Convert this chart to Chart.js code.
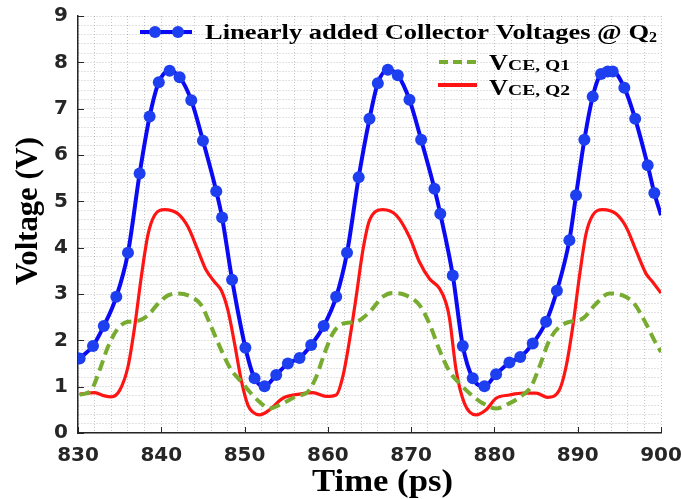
<!DOCTYPE html>
<html>
<head>
<meta charset="utf-8">
<title>Collector Voltages</title>
<script src="https://cdn.jsdelivr.net/npm/chart.js@4.4.0/dist/chart.umd.min.js"></script>
<style>
    html, body { margin: 0; padding: 0; background: #ffffff; }
    #wrap { width: 681px; height: 499px; }
</style>
</head>
<body>
<div id="wrap"><canvas id="chart" width="681" height="499"></canvas></div>
<script>
// Data
const blueTime = [830.2, 831.8, 833.1, 834.6, 836.0, 837.4, 838.6, 839.7, 841.0, 842.2, 843.6, 845.0, 846.6, 847.3, 848.5, 850.1, 851.2, 852.4, 853.8, 855.2, 856.6, 858.0, 859.5, 861.0, 862.3, 863.7, 865.0, 866.0, 867.2, 868.4, 869.8, 871.2, 872.8, 873.5, 875.0, 876.2, 877.4, 878.8, 880.2, 881.8, 883.1, 884.6, 886.2, 887.5, 889.0, 889.8, 890.8, 891.8, 892.8, 893.6, 894.2, 895.6, 896.9, 898.4, 899.2, 900];
const blueVolt = [1.61, 1.88, 2.31, 2.94, 3.89, 5.60, 6.83, 7.57, 7.82, 7.68, 7.18, 6.31, 5.22, 4.65, 3.31, 1.84, 1.18, 1.01, 1.25, 1.50, 1.62, 1.90, 2.31, 2.94, 3.89, 5.52, 6.78, 7.55, 7.84, 7.72, 7.19, 6.33, 5.27, 4.73, 3.40, 1.88, 1.18, 1.01, 1.27, 1.52, 1.64, 1.93, 2.40, 3.07, 4.16, 5.13, 6.33, 7.26, 7.75, 7.80, 7.80, 7.45, 6.78, 5.78, 5.18, 4.70];

const q1Time = [830.2, 831.6, 832.6, 833.6, 834.8, 836.0, 837.2, 838.4, 839.6, 840.8, 842.0, 843.6, 844.8, 846.0, 847.2, 848.4, 849.6, 850.6, 851.8, 853.0, 854.6, 856.2, 857.6, 858.6, 859.6, 860.6, 861.8, 863.4, 865.0, 866.6, 867.8, 869.4, 871.0, 872.2, 873.4, 874.6, 875.8, 877.0, 878.6, 880.2, 881.8, 883.4, 884.4, 885.4, 886.6, 887.8, 889.0, 890.6, 892.2, 893.8, 895.4, 896.8, 898.2, 899.2, 900];
const q1Volt = [0.82, 0.93, 1.36, 1.86, 2.26, 2.40, 2.42, 2.54, 2.79, 2.97, 3.01, 2.94, 2.76, 2.29, 1.79, 1.36, 1.11, 0.89, 0.67, 0.53, 0.64, 0.79, 0.89, 1.21, 1.72, 2.15, 2.36, 2.40, 2.61, 2.94, 3.02, 2.97, 2.76, 2.36, 1.79, 1.33, 1.07, 0.86, 0.64, 0.53, 0.64, 0.82, 1.00, 1.43, 2.00, 2.29, 2.40, 2.47, 2.79, 3.01, 2.97, 2.79, 2.36, 2.00, 1.75];

const q2Time = [830.2, 832.0, 833.2, 834.0, 835.0, 836.0, 836.8, 837.6, 838.4, 839.2, 840.4, 842.0, 843.2, 844.4, 845.4, 846.4, 847.2, 848.0, 848.8, 849.6, 850.4, 851.0, 851.8, 853.0, 854.6, 856.6, 858.2, 859.8, 861.0, 861.8, 862.6, 863.4, 864.2, 865.0, 866.6, 868.2, 869.8, 871.0, 872.2, 873.4, 874.2, 874.6, 875.4, 876.4, 877.8, 879.0, 880.2, 881.8, 883.4, 885.0, 886.4, 887.8, 888.6, 889.4, 890.2, 891.0, 891.8, 893.0, 894.6, 895.8, 897.0, 898.2, 899.0, 900];
const q2Volt = [0.84, 0.87, 0.80, 0.78, 0.92, 1.43, 2.29, 3.37, 4.28, 4.70, 4.82, 4.73, 4.45, 3.94, 3.51, 3.26, 3.08, 2.65, 1.93, 1.14, 0.60, 0.45, 0.39, 0.50, 0.75, 0.84, 0.87, 0.79, 0.82, 1.22, 2.00, 2.94, 3.94, 4.59, 4.82, 4.70, 4.23, 3.69, 3.33, 3.12, 2.80, 2.48, 1.36, 0.64, 0.39, 0.50, 0.75, 0.82, 0.86, 0.86, 0.77, 0.93, 1.43, 2.29, 3.37, 4.30, 4.70, 4.82, 4.73, 4.45, 3.94, 3.44, 3.26, 3.02];

const xMajorTicks = [830, 840, 850, 860, 870, 880, 890, 900];
const yMajorTicks = [0, 1, 2, 3, 4, 5, 6, 7, 8, 9];

const BLUE = '#0a0af5';
const BLUE_MARK = '#1d3ff0';
const GREEN = '#77ac30';
const RED = '#ff1414';
const AXIS = '#262626';

function toPoints(xs, ys) {
    return xs.map((x, i) => ({ x: x, y: ys[i] }));
}

function isMajor(v) {
    return Math.abs(v - Math.round(v)) < 1e-6;
}

// draw text squeezed/stretched to a target width
function fitText(ctx, text, x, y, width) {
    const w = ctx.measureText(text).width;
    ctx.save();
    ctx.translate(x, y);
    ctx.scale(width / w, 1);
    ctx.fillText(text, 0, 0);
    ctx.restore();
}

// Inward tick marks, axis titles and the legend
const decorations = {
    id: 'decorations',
    afterDraw(chart) {
        const ctx = chart.ctx;
        const area = chart.chartArea;
        const xs = chart.scales.x;
        const ys = chart.scales.y;

        ctx.save();
        ctx.strokeStyle = AXIS;
        ctx.lineWidth = 1;
        ctx.beginPath();
        xMajorTicks.forEach(v => {
            const px = Math.round(xs.getPixelForValue(v)) + 0.5;
            ctx.moveTo(px, area.bottom);
            ctx.lineTo(px, area.bottom - 6);
        });
        yMajorTicks.forEach(v => {
            const py = Math.round(ys.getPixelForValue(v)) + 0.5;
            ctx.moveTo(area.left, py);
            ctx.lineTo(area.left + 6, py);
        });
        ctx.stroke();

        // axis titles
        ctx.fillStyle = '#000000';
        ctx.font = 'bold 31px "Liberation Serif", "Times New Roman", serif';
        ctx.textAlign = 'left';
        ctx.textBaseline = 'alphabetic';
        fitText(ctx, 'Time (ps)', 312, 491, 141);
        ctx.save();
        ctx.translate(37, 285);
        ctx.rotate(-Math.PI / 2);
        fitText(ctx, 'Voltage (V)', 0, 0, 148);
        ctx.restore();

        // legend row 1: blue line with markers
        ctx.strokeStyle = BLUE;
        ctx.lineWidth = 4;
        ctx.beginPath();
        ctx.moveTo(140, 32);
        ctx.lineTo(192, 32);
        ctx.stroke();
        ctx.fillStyle = BLUE_MARK;
        [155, 178].forEach(mx => {
            ctx.beginPath();
            ctx.arc(mx, 32, 6, 0, Math.PI * 2);
            ctx.fill();
        });
        ctx.fillStyle = '#000000';
        ctx.font = 'bold 21px "Liberation Serif", "Times New Roman", serif';
        fitText(ctx, 'Linearly added Collector Voltages @ Q', 205, 39, 444);
        ctx.font = 'bold 14px "Liberation Serif", "Times New Roman", serif';
        fitText(ctx, '2', 649, 42, 8);

        // legend row 2: green dashed
        ctx.strokeStyle = GREEN;
        ctx.lineWidth = 4;
        ctx.setLineDash([9, 5]);
        ctx.beginPath();
        ctx.moveTo(439, 62);
        ctx.lineTo(477, 62);
        ctx.stroke();
        ctx.setLineDash([]);

        // legend row 3: red solid
        ctx.strokeStyle = RED;
        ctx.lineWidth = 4;
        ctx.beginPath();
        ctx.moveTo(438, 85);
        ctx.lineTo(477, 85);
        ctx.stroke();

        ctx.fillStyle = '#000000';
        ctx.font = 'bold 24px "Liberation Serif", "Times New Roman", serif';
        fitText(ctx, 'V', 489, 70, 19);
        fitText(ctx, 'V', 489, 95, 19);
        ctx.font = 'bold 15px "Liberation Serif", "Times New Roman", serif';
        fitText(ctx, 'CE, Q1', 508, 70, 62);
        fitText(ctx, 'CE, Q2', 508, 95, 62);
        ctx.restore();
    }
};

const tickFont = { family: '"DejaVu Sans", "Liberation Sans", Arial, sans-serif', size: 20, weight: 'bold' };
const gridStyle = { color: 'rgba(0, 0, 0, 0.22)', lineWidth: 1, drawTicks: false };

new Chart(document.getElementById('chart').getContext('2d'), {
    type: 'line',
    data: {
        datasets: [{
            label: 'Linearly added Collector Voltages @ Q2',
            data: toPoints(blueTime, blueVolt),
            borderColor: BLUE,
            borderWidth: 4,
            pointRadius: ctx => ctx.dataIndex === blueTime.length - 1 ? 0 : 6,
            pointBackgroundColor: BLUE_MARK,
            pointBorderWidth: 0,
            cubicInterpolationMode: 'monotone'
        }, {
            label: 'VCE, Q1',
            data: toPoints(q1Time, q1Volt),
            borderColor: GREEN,
            borderWidth: 4,
            borderDash: [11, 6],
            pointRadius: 0,
            cubicInterpolationMode: 'monotone'
        }, {
            label: 'VCE, Q2',
            data: toPoints(q2Time, q2Volt),
            borderColor: RED,
            borderWidth: 3.2,
            pointRadius: 0,
            cubicInterpolationMode: 'monotone'
        }]
    },
    options: {
        responsive: false,
        animation: false,
        devicePixelRatio: 1,
        layout: { padding: { top: 16, right: 20, left: 0, bottom: 0 } },
        plugins: {
            legend: { display: false },
            tooltip: { enabled: false }
        },
        scales: {
            x: {
                type: 'linear',
                min: 830,
                max: 900,
                afterFit: s => { s.height = 66; s.paddingLeft = 0; s.paddingRight = 0; },
                ticks: {
                    stepSize: 2,
                    autoSkip: false,
                    maxRotation: 0,
                    padding: 11,
                    color: AXIS,
                    font: tickFont,
                    callback: v => (Math.round(v) % 10 === 0 && isMajor(v)) ? String(Math.round(v)) : ''
                },
                grid: gridStyle,
                border: { color: AXIS, width: 1.5, dash: [1, 2] }
            },
            y: {
                min: 0,
                max: 9,
                afterFit: s => { s.width = 78; s.paddingTop = 0; s.paddingBottom = 0; },
                ticks: {
                    stepSize: 0.2,
                    autoSkip: false,
                    padding: 10,
                    color: AXIS,
                    font: tickFont,
                    callback: v => isMajor(v) ? String(Math.round(v)) : ''
                },
                grid: gridStyle,
                border: { color: AXIS, width: 1.5, dash: [1, 2] }
            }
        }
    },
    plugins: [decorations]
});
</script>
</body>
</html>
